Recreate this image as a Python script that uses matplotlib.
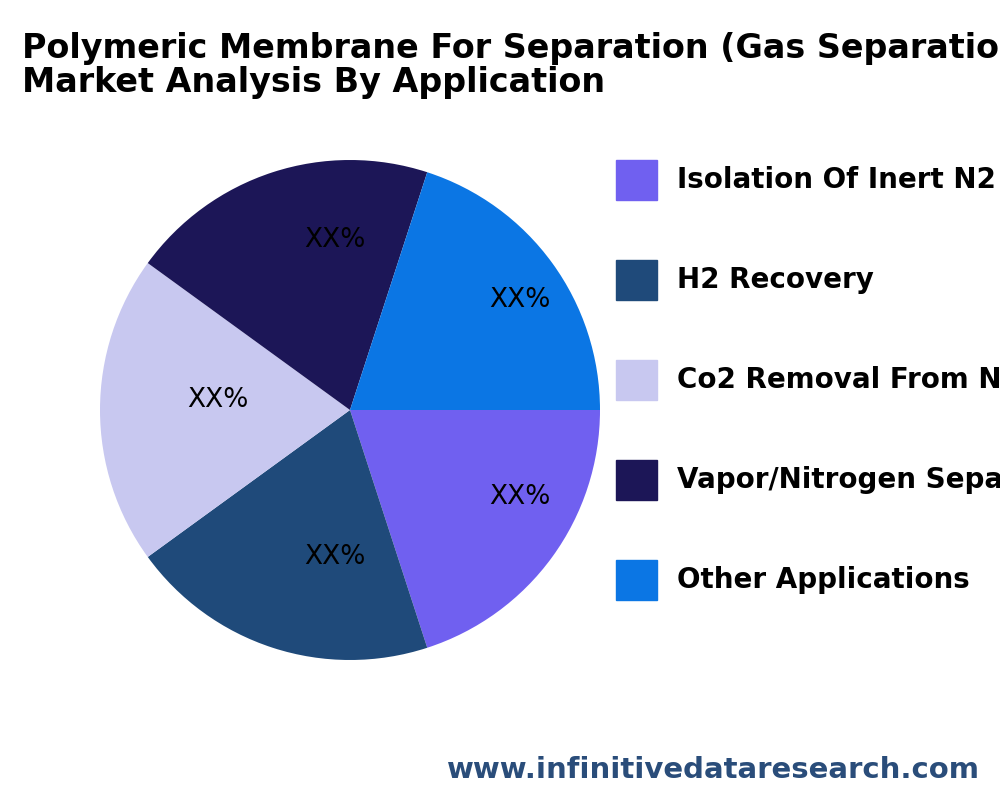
import matplotlib
matplotlib.use("Agg")
import matplotlib.pyplot as plt

categories = ["Isolation Of Inert N2", "H2 Recovery", "Co2 Removal From Natural Gas",
              "Vapor/Nitrogen Separation", "Other Applications"]
values = [20, 20, 20, 20, 20]
labels = ["XX%"] * 5
colors = ["#7060F0", "#1F4A7A", "#C8C8F0", "#1C1657", "#0B76E4"]
label_pos = [(0.68, -0.35), (-0.06, -0.59), (-0.53, 0.04), (-0.06, 0.68), (0.68, 0.44)]

fig = plt.figure(figsize=(10, 8), dpi=100)
ax = fig.add_axes([0.10, 0.175, 0.50, 0.625])
wedges, texts = ax.pie(values, colors=colors, startangle=0, counterclock=False,
                       labels=labels, labeldistance=0.8, frame=False,
                       textprops=dict(fontsize=19, family="DejaVu Sans", color="black"))
for t, p in zip(texts, label_pos):
    t.set_position(p)
    t.set_horizontalalignment("center")
    t.set_verticalalignment("center")
ax.set_xlim(-1, 1)
ax.set_ylim(-1, 1)
ax.set_aspect("equal")
ax.axis("off")

fig.text(0.022, 0.96, "Polymeric Membrane For Separation (Gas Separation)\nMarket Analysis By Application",
         fontsize=24, fontweight="bold", family="DejaVu Sans", va="top", ha="left", linespacing=1.05)

ys = [180, 280, 380, 480, 580]
for c, col, y in zip(categories, colors, ys):
    fig.patches.append(plt.Rectangle((0.616, 1 - (y + 20) / 800), 0.041, 40 / 800,
                                     transform=fig.transFigure, color=col))
    fig.text(0.677, 1 - y / 800, c, fontsize=20, fontweight="bold", family="DejaVu Sans",
             va="center", ha="left")

fig.text(0.98, 1 - 770 / 800, "www.infinitivedataresearch.com", fontsize=21, fontweight="bold",
         family="DejaVu Sans", color="#2A4D7A", ha="right", va="center")
fig.savefig("out.png")
